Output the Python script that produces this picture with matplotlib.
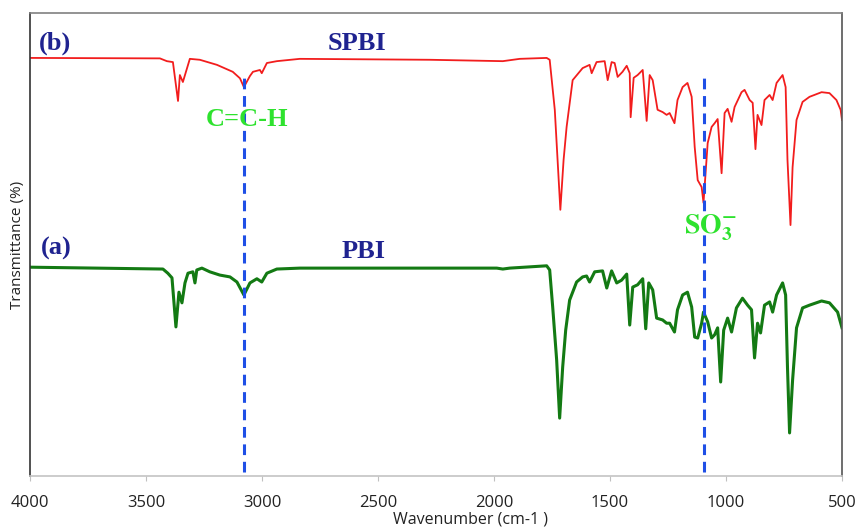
import numpy as np
import matplotlib
matplotlib.use('Agg')
import matplotlib.pyplot as plt

# SPBI (b) - wavenumber (cm-1) and transmittance (arb. %)
spbi_wn = [4000, 3440, 3410, 3384, 3362, 3354, 3341, 3311, 3268, 3194, 3126, 3095, 3078,
           3052, 3039, 3009, 3001, 2979, 2936, 2837, 2277, 1962, 1889, 1773, 1760, 1738,
           1714, 1700, 1687, 1661, 1618, 1588, 1579, 1558, 1523, 1510, 1493, 1480, 1467,
           1446, 1428, 1415, 1411, 1398, 1381, 1359, 1342, 1329, 1316, 1295, 1273, 1256,
           1243, 1222, 1209, 1187, 1166, 1148, 1135, 1122, 1105, 1097, 1079, 1062, 1049,
           1036, 1019, 1006, 993, 976, 963, 933, 920, 898, 885, 873, 864, 847, 834, 812,
           799, 782, 756, 743, 735, 722, 713, 696, 670, 640, 588, 554, 524, 506, 500]
spbi_t = [90.3, 90.2, 89.6, 89.4, 81.0, 86.6, 85.1, 90.1, 89.9, 88.8, 87.3, 85.9, 84.0,
          86.4, 87.3, 87.7, 87.0, 89.2, 89.6, 90.1, 89.9, 89.6, 90.1, 90.3, 89.9, 79.1,
          57.5, 68.3, 75.4, 85.5, 88.1, 88.8, 87.0, 89.4, 89.6, 85.5, 89.4, 89.2, 86.2,
          87.3, 88.6, 87.0, 77.5, 86.0, 86.6, 87.7, 76.7, 86.6, 85.5, 79.1, 78.6, 78.0,
          78.4, 76.2, 81.2, 84.0, 84.9, 81.9, 71.1, 63.9, 62.4, 59.0, 71.9, 75.4, 76.2,
          77.1, 65.4, 78.4, 79.3, 76.5, 79.7, 82.9, 83.4, 81.2, 80.6, 70.6, 78.0, 75.8,
          81.2, 82.3, 81.2, 84.9, 86.6, 84.0, 68.3, 54.2, 66.7, 76.9, 80.8, 81.9, 82.9,
          82.7, 81.2, 79.1, 76.9]

# PBI (a)
pbi_wn = [4000, 3427, 3406, 3388, 3371, 3358, 3345, 3332, 3319, 3298, 3289, 3281, 3259,
          3225, 3182, 3138, 3108, 3078, 3052, 3022, 3001, 2979, 2936, 2837, 2277, 1988,
          1962, 1932, 1773, 1760, 1747, 1730, 1717, 1704, 1691, 1674, 1644, 1618, 1601,
          1588, 1566, 1532, 1514, 1493, 1471, 1450, 1428, 1415, 1402, 1381, 1359, 1346,
          1333, 1316, 1299, 1273, 1256, 1243, 1222, 1209, 1187, 1166, 1148, 1135, 1122,
          1105, 1097, 1079, 1062, 1049, 1036, 1023, 1010, 993, 976, 955, 929, 907, 890,
          877, 864, 851, 834, 812, 799, 782, 756, 743, 735, 726, 713, 696, 670, 640, 588,
          554, 519, 500]
pbi_t = [45.1, 44.7, 43.8, 42.8, 32.2, 39.7, 37.4, 41.7, 43.8, 44.1, 41.7, 44.5, 44.9,
         44.1, 43.4, 43.0, 41.9, 39.1, 41.7, 42.6, 41.9, 43.8, 44.7, 44.9, 44.9, 44.9,
         44.7, 44.9, 45.4, 44.5, 36.5, 25.1, 12.5, 23.5, 31.5, 38.0, 41.9, 43.0, 43.2,
         41.9, 44.1, 44.3, 40.6, 44.3, 41.7, 42.3, 43.6, 32.6, 40.8, 41.3, 42.6, 31.8,
         41.7, 40.2, 34.1, 33.7, 33.0, 33.0, 31.1, 35.9, 39.1, 39.7, 36.5, 30.0, 29.8,
         33.0, 35.4, 33.3, 29.8, 30.5, 32.0, 20.3, 31.5, 34.1, 31.1, 36.3, 38.4, 36.9, 35.9,
         25.5, 33.0, 30.9, 36.9, 37.6, 35.4, 39.1, 41.7, 39.1, 23.5, 9.3, 20.7, 32.0, 36.3,
         36.9, 37.8, 37.4, 35.4, 32.0]

marker_wn = [3077, 1096]
xticks = [4000, 3500, 3000, 2500, 2000, 1500, 1000, 500]

plt.rcParams['mathtext.fontset'] = 'stix'

fig = plt.figure(figsize=(8.57, 5.29), dpi=100)
ax = fig.add_axes([0.035, 0.1002, 0.9475, 0.8752])

ax.plot(spbi_wn, spbi_t, color='#f21d1d', lw=1.3)
ax.plot(pbi_wn, pbi_t, color='#137a13', lw=2.2)
ax.vlines(marker_wn, 0.9, 87, colors='#1f4fe6', linestyles=(0, (3.5, 2.2)), lw=2.2)

ax.set_xlim(4000, 500)
ax.set_ylim(0, 100)
ax.set_xticks(xticks)
ax.set_yticks([])

tick_font = 'Open Sans'
for lab in ax.get_xticklabels():
    lab.set_fontfamily(tick_font)
ax.tick_params(axis='x', direction='out', length=3.5, color='#c0c0c0', pad=10,
               labelsize=12, labelcolor='#222222')

ax.spines['left'].set_color('#333333')
ax.spines['top'].set_color('#808080')
ax.spines['right'].set_color('#555555')
ax.spines['bottom'].set_color('#c4c4c4')
for s in ax.spines.values():
    s.set_linewidth(1.2)

ax.set_xlabel('Wavenumber (cm-1 )', fontsize=11.5, family=tick_font, color='#222222')
ax.xaxis.set_label_coords(0.542, -0.076)
ax.set_ylabel('Transmittance (%)', fontsize=11, family=tick_font, color='#222222')
ax.yaxis.set_label_coords(-0.006, 0.5)

navy = '#1f2390'
lime = '#2ee22e'
serif = 'Liberation Serif'
ax.text(3892, 93.5, '(b)', color=navy, fontsize=19, fontweight='bold', family=serif,
        ha='center', va='center')
ax.text(2591, 93.5, 'SPBI', color=navy, fontsize=19, fontweight='bold', family=serif,
        ha='center', va='center')
ax.text(3888, 49.2, '(a)', color=navy, fontsize=19, fontweight='bold', family=serif,
        ha='center', va='center')
ax.text(2561, 48.4, 'PBI', color=navy, fontsize=19, fontweight='bold', family=serif,
        ha='center', va='center')
ax.text(3065, 76.9, 'C=C-H', color=lime, fontsize=19, fontweight='bold', family=serif,
        ha='center', va='center')
ax.text(1067, 53.6, r'$\mathbf{SO_3^{-}}$', color=lime, fontsize=20,
        ha='center', va='center')

plt.savefig('out.png', dpi=100)
